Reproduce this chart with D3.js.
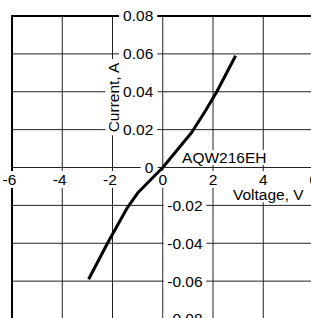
<!DOCTYPE html>
<html>
<head>
<meta charset="utf-8">
<script src="https://cdn.jsdelivr.net/npm/d3@7"></script>
<style>
  body { margin: 0; background: #fff; }
  svg { display: block; font-family: "Liberation Sans", Arial, Helvetica, sans-serif; }
</style>
</head>
<body>
<div id="vis"></div>
<script>
const FRAME_WIDTH = 311;
const FRAME_HEIGHT = 318;

// data
const VOLTAGE = [-2.95, -2.2, -1.4, -1.0, 0, 1.15, 1.7, 2.15, 2.9];
const CURRENT = [-0.059, -0.04, -0.021, -0.0135, 0, 0.0185, 0.03, 0.04, 0.059];
const X_TICKS = [-6, -4, -2, 0, 2, 4, 6];
const Y_TICKS_POS = [0.08, 0.06, 0.04, 0.02, 0];
const Y_TICKS_NEG = [-0.02, -0.04, -0.06, -0.08];
const X_TITLE = 'Voltage, V';
const Y_TITLE = 'Current, A';
const PART_NAME = 'AQW216EH';

const FONT = 15.5;

const X_SCALE = d3.scaleLinear().domain([-6, 6]).range([12, 313.5]);
const Y_SCALE = d3.scaleLinear().domain([0.08, -0.08]).range([16, 319]);

const FRAME = d3.select('#vis')
  .append('svg')
    .attr('width', FRAME_WIDTH)
    .attr('height', FRAME_HEIGHT);

// grid
const gridX = X_TICKS.filter(d => d !== -6 && d !== 6);
const gridY = Y_TICKS_POS.concat(Y_TICKS_NEG).filter(d => Math.abs(d) !== 0.08);

FRAME.append('g').selectAll('line')
  .data(gridX)
  .enter().append('line')
    .attr('x1', d => X_SCALE(d)).attr('x2', d => X_SCALE(d))
    .attr('y1', Y_SCALE(0.08)).attr('y2', Y_SCALE(-0.08))
    .attr('stroke', '#222').attr('stroke-width', 1);

FRAME.append('g').selectAll('line')
  .data(gridY)
  .enter().append('line')
    .attr('x1', X_SCALE(-6)).attr('x2', X_SCALE(6))
    .attr('y1', d => Y_SCALE(d)).attr('y2', d => Y_SCALE(d))
    .attr('stroke', '#222').attr('stroke-width', 1);

// heavy frame lines (top and left)
FRAME.append('line')
  .attr('x1', X_SCALE(-6) - 1).attr('x2', X_SCALE(6))
  .attr('y1', Y_SCALE(0.08)).attr('y2', Y_SCALE(0.08))
  .attr('stroke', '#000').attr('stroke-width', 2);
FRAME.append('line')
  .attr('x1', X_SCALE(-6)).attr('x2', X_SCALE(-6))
  .attr('y1', Y_SCALE(0.08)).attr('y2', Y_SCALE(-0.08))
  .attr('stroke', '#000').attr('stroke-width', 2);

// labels with white boxes that cut the grid
const LABELS = FRAME.append('g').attr('font-size', FONT).attr('fill', '#000');

function boxed(sel, padX, padY) {
  sel.each(function() {
    const b = this.getBBox();
    d3.select(this.parentNode).insert('rect', () => this)
      .attr('x', b.x - padX).attr('y', b.y - padY)
      .attr('width', b.width + 2 * padX).attr('height', b.height + 2 * padY)
      .attr('fill', '#fff');
  });
}

const halfDigit = FONT * 0.556 / 2;

LABELS.selectAll('.xlab')
  .data(X_TICKS)
  .enter().append('text')
    .attr('class', 'xlab')
    .attr('x', d => X_SCALE(d) + halfDigit)
    .attr('y', Y_SCALE(0) + 12)
    .attr('dy', '0.35em')
    .attr('text-anchor', 'end')
    .text(d => d)
    .call(boxed, 1, 0);

LABELS.selectAll('.ypos')
  .data(Y_TICKS_POS)
  .enter().append('text')
    .attr('class', 'ypos')
    .attr('x', X_SCALE(0) - 9.5)
    .attr('y', d => Y_SCALE(d))
    .attr('dy', '0.35em')
    .attr('text-anchor', 'end')
    .text(d => d === 0 ? '0' : d.toFixed(2))
    .call(boxed, 4, -1);

LABELS.selectAll('.yneg')
  .data(Y_TICKS_NEG)
  .enter().append('text')
    .attr('class', 'yneg')
    .attr('x', X_SCALE(0) + 4.5)
    .attr('y', d => Y_SCALE(d))
    .attr('dy', '0.35em')
    .attr('text-anchor', 'start')
    .text(d => d.toFixed(2))
    .call(boxed, 3.5, -1);

LABELS.append('text')
  .attr('x', X_SCALE(4.2))
  .attr('y', Y_SCALE(0) + 27.5)
  .attr('dy', '0.35em')
  .attr('text-anchor', 'middle')
  .text(X_TITLE)
  .call(boxed, 2, -1);

LABELS.append('g')
  .attr('transform', 'translate(' + (X_SCALE(-2) + 1.5) + ',' + Y_SCALE(0.037) + ') rotate(-90)')
  .append('text')
    .attr('text-anchor', 'middle')
    .attr('dy', '0.35em')
    .text(Y_TITLE)
    .call(boxed, 3, 0);

LABELS.append('text')
  .attr('x', X_SCALE(0.77))
  .attr('y', Y_SCALE(0) - 4.5)
  .text(PART_NAME)
  .call(boxed, 1, -1);

// I-V curve
const line = d3.line()
  .x((d, i) => X_SCALE(VOLTAGE[i]))
  .y(d => Y_SCALE(d));

FRAME.append('path')
  .datum(CURRENT)
  .attr('d', line)
  .attr('fill', 'none')
  .attr('stroke', '#000')
  .attr('stroke-width', 3)
  .attr('stroke-linejoin', 'round');
</script>
</body>
</html>
